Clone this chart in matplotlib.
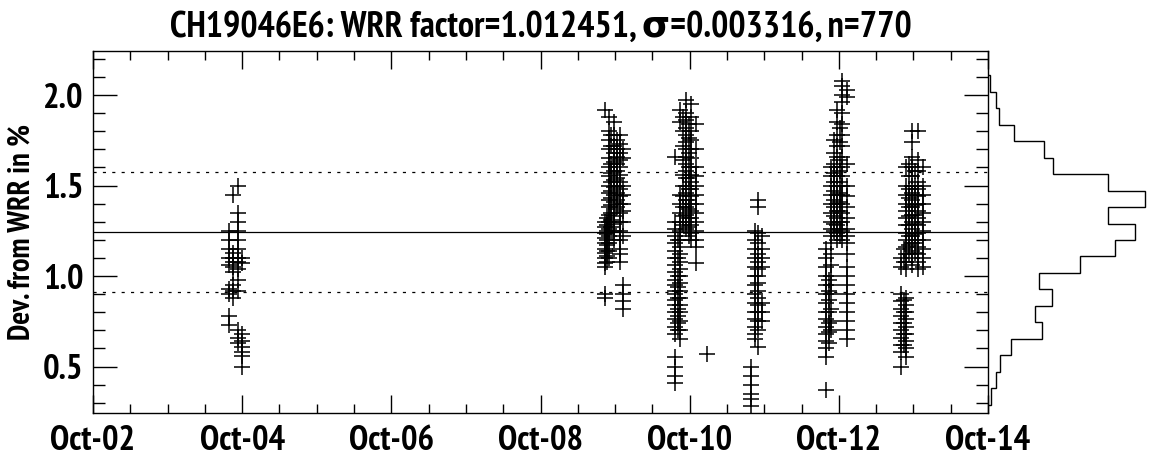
import numpy as np
import matplotlib
matplotlib.use("Agg")
import matplotlib.pyplot as plt
from matplotlib import font_manager
from matplotlib.ticker import MultipleLocator, FixedLocator

# pick a narrow / condensed bold sans if one is installed
narrow = None
for key in ['Narrow', 'Condensed']:
    for f in font_manager.fontManager.ttflist:
        fl = f.fname.lower()
        if key.lower() in fl and 'sans' in fl and 'bold' in fl and 'oblique' not in fl and 'italic' not in fl:
            narrow = f.fname
            break
    if narrow:
        break

if narrow:
    font_manager.fontManager.addfont(narrow)
    fam = font_manager.FontProperties(fname=narrow).get_name()
    plt.rcParams['font.family'] = [fam, 'DejaVu Sans']
else:
    plt.rcParams['font.family'] = ['DejaVu Sans']
plt.rcParams['font.weight'] = 'bold'

title = "CH19046E6: WRR factor=1.012451, \u03c3=0.003316, n=770"
ylabel = "Dev. from WRR in %"
xtick_pos = [2002.75, 2004.75, 2006.75, 2008.75, 2010.75, 2012.75, 2014.75]
xtick_labels = ["Oct-02", "Oct-04", "Oct-06", "Oct-08", "Oct-10", "Oct-12", "Oct-14"]
mean_dev = 1.245
sigma_dev = 0.332

# measurement campaigns: column x (decimal year) and the values in each column
c04_cols = [2004.57, 2004.63, 2004.70, 2004.75]
c04_vals = [
    [1.25, 1.2, 1.15, 1.1, 1.06, 0.93, 0.9, 0.78, 0.73],
    [1.45, 1.13, 1.1, 1.08, 1.05, 1.02, 0.95, 0.92, 0.88],
    [1.5, 1.35, 1.3, 1.25, 1.2, 1.15, 1.1, 1.08, 1.04, 0.98, 0.92, 0.7, 0.66, 0.63],
    [1.1, 1.07, 0.68, 0.64, 0.61, 0.58, 0.56, 0.5],
]
c09_cols = [2009.61, 2009.64, 2009.67, 2009.70, 2009.74, 2009.78, 2009.81, 2009.86]
c09_vals = [
    [1.92, 1.3, 1.27, 1.24, 1.21, 1.18, 1.15, 1.13, 1.1, 1.07, 1.05, 0.9, 0.88],
    [1.32, 1.28, 1.25, 1.23, 1.2, 1.17, 1.14, 1.11, 1.08],
    [1.88, 1.8, 1.75, 1.7, 1.65, 1.6, 1.55, 1.5, 1.46, 1.42, 1.38, 1.34, 1.3, 1.26, 1.22, 1.18, 1.14, 1.1],
    [1.78, 1.72, 1.62, 1.57, 1.52, 1.47, 1.43, 1.39, 1.35, 1.31, 1.27],
    [1.85, 1.78, 1.72, 1.68, 1.63, 1.58, 1.53, 1.49, 1.45, 1.41, 1.37, 1.33, 1.29, 1.25, 1.2],
    [1.75, 1.7, 1.66, 1.62, 1.58, 1.54, 1.5, 1.46, 1.42, 1.38],
    [1.78, 1.73, 1.68, 1.64, 1.6, 1.56, 1.52, 1.48, 1.44, 1.4, 1.35, 1.3, 1.25, 1.2, 1.15, 1.12, 1.08],
    [1.7, 1.65, 1.5, 1.45, 1.4, 1.36, 1.3, 1.22, 0.95, 0.9, 0.86, 0.82],
]
c10_cols = [2010.56, 2010.59, 2010.62, 2010.66, 2010.70, 2010.74, 2010.77, 2010.84, 2010.98]
c10_vals = [
    [1.66, 1.3, 1.26, 1.22, 1.18, 1.14, 1.1, 1.06, 1.02, 0.98, 0.95, 0.92, 0.9, 0.87, 0.84, 0.8, 0.76, 0.72, 0.68, 0.55, 0.5, 0.45, 0.41],
    [1.2, 1.1, 1.0, 0.94, 0.88, 0.82, 0.78, 0.74, 0.7],
    [1.92, 1.85, 1.45, 1.4, 1.35, 1.3, 1.25, 1.2, 1.16, 1.12, 1.08, 1.04, 1.0, 0.96, 0.92, 0.88, 0.84, 0.8, 0.75, 0.7, 0.65],
    [1.88, 1.8, 1.72, 1.64, 1.56, 1.5, 1.44, 1.38, 1.33, 1.28],
    [1.97, 1.9, 1.86, 1.82, 1.78, 1.74, 1.7, 1.66, 1.62, 1.58, 1.54, 1.5, 1.46, 1.42, 1.38, 1.34, 1.3, 1.26],
    [1.84, 1.76, 1.68, 1.6, 1.54, 1.48, 1.42, 1.37, 1.32, 1.27, 1.22],
    [1.95, 1.88, 1.8, 1.75, 1.7, 1.65, 1.6, 1.56, 1.52, 1.48, 1.44, 1.4, 1.36, 1.32, 1.28, 1.24, 1.2],
    [1.84, 1.7, 1.6, 1.55, 1.5, 1.45, 1.4, 1.35, 1.3, 1.25, 1.2, 1.16, 1.07],
    [0.57],
]
c11_cols = [2011.57, 2011.62, 2011.67, 2011.72]
c11_vals = [
    [0.5, 0.45, 0.4, 0.35, 0.32, 0.28],
    [1.25, 1.2, 1.15, 1.1, 1.05, 1.0, 0.95, 0.9, 0.85, 0.8, 0.76, 0.72, 0.68, 0.65],
    [1.42, 1.38, 1.24, 1.18, 1.12, 1.08, 1.04, 1.0, 0.96, 0.92, 0.88, 0.84, 0.8, 0.75, 0.7, 0.61],
    [1.22, 1.15, 1.1, 1.05, 0.85, 0.8, 0.75],
]
c12_cols = [2012.58, 2012.62, 2012.65, 2012.69, 2012.72, 2012.76, 2012.79, 2012.86]
c12_vals = [
    [1.15, 1.1, 1.05, 1.0, 0.95, 0.9, 0.85, 0.8, 0.76, 0.72, 0.68, 0.64, 0.6, 0.55, 0.37],
    [0.98, 0.92, 0.87, 0.8, 0.74, 0.69, 0.63],
    [1.6, 1.55, 1.5, 1.45, 1.4, 1.35, 1.3, 1.26, 1.22, 1.18, 1.12, 1.06, 1.0, 0.95, 0.9, 0.82, 0.75, 0.7],
    [1.75, 1.68, 1.62, 1.57, 1.52, 1.47, 1.42, 1.38, 1.33, 1.29, 1.25],
    [1.92, 1.85, 1.78, 1.72, 1.66, 1.6, 1.55, 1.5, 1.45, 1.4, 1.36, 1.32, 1.28, 1.24, 1.2],
    [1.82, 1.74, 1.64, 1.58, 1.52, 1.46, 1.41, 1.36, 1.3, 1.26, 1.22],
    [2.08, 2.05, 2.0, 1.96, 1.9, 1.84, 1.78, 1.72, 1.66, 1.6, 1.55, 1.5, 1.45, 1.4, 1.35, 1.3, 1.25, 1.2],
    [2.03, 1.99, 1.62, 1.5, 1.44, 1.38, 1.32, 1.26, 1.22, 1.18, 1.12, 1.05, 1.0, 0.95, 0.9, 0.85, 0.8, 0.75, 0.7, 0.65],
]
c13_cols = [2013.58, 2013.62, 2013.65, 2013.69, 2013.73, 2013.77, 2013.81, 2013.88]
c13_vals = [
    [1.1, 1.05, 0.9, 0.86, 0.82, 0.78, 0.74, 0.7, 0.66, 0.62, 0.58, 0.5],
    [0.87, 0.8, 0.74, 0.68, 0.62, 1.08, 1.15],
    [1.6, 1.5, 1.45, 1.4, 1.36, 1.32, 1.28, 1.24, 1.2, 1.16, 1.12, 1.08, 1.04, 0.88, 0.84, 0.8, 0.76, 0.72, 0.68, 0.64, 0.6, 0.55],
    [1.62, 1.55, 1.48, 1.43, 1.38, 1.33, 1.28, 1.22, 1.17, 1.12],
    [1.8, 1.74, 1.66, 1.6, 1.55, 1.5, 1.46, 1.42, 1.38, 1.34, 1.3, 1.26, 1.22, 1.18, 1.14, 1.1, 1.06],
    [1.58, 1.5, 1.45, 1.39, 1.34, 1.29, 1.23, 1.18, 1.13],
    [1.8, 1.64, 1.58, 1.52, 1.48, 1.44, 1.4, 1.36, 1.32, 1.28, 1.24, 1.2, 1.16, 1.12, 1.08, 1.04],
    [1.6, 1.5, 1.45, 1.4, 1.35, 1.3, 1.25, 1.2, 1.15, 1.1, 1.05],
]

# histogram on the right (counts from top bin to bottom bin)
hist_top = 2.108
hist_bottom = 0.290
hist_counts_top_down = [1, 5, 7, 17, 36, 42, 77, 101, 77, 95, 82, 59, 33, 41, 30, 35, 15, 8, 5, 2]

fig = plt.figure(figsize=(11.51, 4.57), dpi=100)
ax = fig.add_axes([93/1151, 1 - 412.7/457, (988 - 93)/1151, (412.7 - 50.7)/457])
axh = fig.add_axes([988/1151, 1 - 412.7/457, (1151 - 988)/1151, (412.7 - 50.7)/457])

xs, ys = [], []
for cols, vals in [(c04_cols, c04_vals), (c09_cols, c09_vals), (c10_cols, c10_vals),
                   (c11_cols, c11_vals), (c12_cols, c12_vals), (c13_cols, c13_vals)]:
    for cx, cv in zip(cols, vals):
        xs.extend([cx] * len(cv))
        ys.extend(cv)

ax.plot(xs, ys, linestyle='none', marker='+', markersize=11.5, markeredgewidth=1.1, color='black')

ax.axhline(mean_dev, color='black', lw=0.9)
ax.axhline(mean_dev + sigma_dev, color='black', lw=0.9, dashes=(2.5, 5))
ax.axhline(mean_dev - sigma_dev, color='black', lw=0.9, dashes=(2.5, 5))

ax.set_xlim(xtick_pos[0], xtick_pos[-1])
ax.set_ylim(mean_dev - 1.0, mean_dev + 1.0)
ax.xaxis.set_major_locator(FixedLocator(xtick_pos))
ax.set_xticklabels(xtick_labels)
ax.xaxis.set_minor_locator(FixedLocator(np.arange(xtick_pos[0], xtick_pos[-1] + 0.01, 0.5)))
ax.yaxis.set_major_locator(MultipleLocator(0.5))
ax.yaxis.set_minor_locator(MultipleLocator(0.1))
ax.yaxis.set_major_formatter(matplotlib.ticker.FormatStrFormatter('%.1f'))
ax.tick_params(axis='both', which='both', direction='in', top=True, right=True, width=1, colors='black')
ax.tick_params(axis='x', which='major', length=13, pad=9, labelsize=25)
ax.tick_params(axis='x', which='minor', length=6.5)
ax.tick_params(axis='y', which='major', length=17, pad=7, labelsize=25)
ax.tick_params(axis='y', which='minor', length=8.6)
for s in ax.spines.values():
    s.set_linewidth(1)
ax.set_ylabel(ylabel, fontsize=22, fontweight='bold', labelpad=5)
ax.set_title(title, fontsize=26, fontweight='bold', pad=10)

edges = np.linspace(hist_top, hist_bottom, len(hist_counts_top_down) + 1)[::-1]
counts = hist_counts_top_down[::-1]
axh.stairs(counts, edges, orientation='horizontal', color='black', lw=1)
axh.set_ylim(mean_dev - 1.0, mean_dev + 1.0)
axh.set_xlim(0, 105)
axh.axis('off')

fig.savefig('out.png', dpi=100)
